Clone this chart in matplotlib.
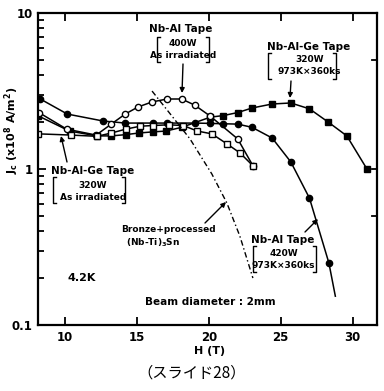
import matplotlib.pyplot as plt
from matplotlib.lines import Line2D
from matplotlib.ticker import FixedLocator, NullFormatter

# data ########################################################
# Nb-Al tape 420W 973Kx360ks (filled circles), last point = line end only
nbal_420_h = [8.26, 10.14, 12.64, 14.17, 16.1, 17.1, 19.0, 20.1, 21.0, 22.0, 23.0, 24.4, 25.7, 27.0, 28.35, 28.8]
nbal_420_j = [2.81, 2.25, 2.03, 1.97, 1.97, 1.97, 1.97, 1.96, 1.95, 1.94, 1.85, 1.58, 1.11, 0.65, 0.25, 0.153]

# Nb-Al-Ge tape 320W 973Kx360ks (filled squares)
nbalge_973_h = [8.12, 10.3, 12.2, 13.2, 14.2, 15.1, 16.1, 17.0, 18.1, 20.1, 21.0, 22.0, 23.0, 24.4, 25.7, 27.0, 28.3, 29.6, 31.0]
nbalge_973_j = [2.19, 1.75, 1.63, 1.63, 1.66, 1.70, 1.73, 1.75, 1.85, 2.15, 2.2, 2.3, 2.46, 2.61, 2.65, 2.43, 2.0, 1.63, 1.0]

# Nb-Al tape 400W as irradiated (open circles)
nbal_400_h = [8.2, 10.1, 12.15, 13.2, 14.17, 15.07, 16.04, 17.08, 18.1, 19.0, 20.07, 22.0, 23.06]
nbal_400_j = [2.29, 1.80, 1.65, 1.94, 2.25, 2.50, 2.69, 2.81, 2.81, 2.57, 2.19, 1.56, 1.05]

# Nb-Al-Ge tape 320W as irradiated (open squares)
nbalge_irr_h = [8.12, 10.4, 12.2, 13.2, 14.2, 15.2, 16.1, 17.2, 18.2, 19.2, 20.2, 21.25, 22.15, 23.06]
nbalge_irr_j = [1.68, 1.65, 1.62, 1.70, 1.80, 1.88, 1.90, 1.92, 1.90, 1.75, 1.68, 1.45, 1.27, 1.05]

# bronze-processed (Nb-Ti)3Sn (dash-dot, no markers)
bronze_h = [16.04, 17.15, 18.68, 20.2, 21.25, 22.15, 23.06]
bronze_j = [3.16, 2.35, 1.56, 0.93, 0.605, 0.372, 0.2]

x_ticks = [10, 15, 20, 25, 30]
y_ticks = [0.1, 1, 10]
y_tick_labels = ["0.1", "1", "10"]

W, H = 384, 391


def fx(px):
    return px / W


def fy(py):
    return 1 - py / H


def bracket(fig, x0, x1, y0, y1):
    # square brackets around the two lower lines of a label, in pixels
    for xa, d in ((x0, 3), (x1, -3)):
        fig.add_artist(Line2D([fx(xa + d), fx(xa), fx(xa), fx(xa + d)],
                              [fy(y0), fy(y0), fy(y1), fy(y1)],
                              color="black", lw=1.0, transform=fig.transFigure))


def arrow(ax, xy_from, xy_to):
    ax.annotate("", xy=(fx(xy_to[0]), fy(xy_to[1])), xycoords="figure fraction",
                xytext=(fx(xy_from[0]), fy(xy_from[1])), textcoords="figure fraction",
                arrowprops=dict(arrowstyle="-|>", color="black", lw=1.0,
                                mutation_scale=7, shrinkA=0, shrinkB=0))


def main():
    plt.rcParams['font.family'] = ['DejaVu Sans', 'Noto Sans CJK JP']
    fig = plt.figure(figsize=(W / 100, H / 100), dpi=100)
    ax = fig.add_axes([fx(38), fy(325), fx(377) - fx(38), fy(13) - fy(325)])

    lw = 1.1
    ax.plot(nbal_420_h, nbal_420_j, "-o", color="black", lw=lw, ms=4.5,
            markevery=list(range(len(nbal_420_h) - 1)))
    ax.plot(nbalge_973_h, nbalge_973_j, "-s", color="black", lw=lw, ms=4.5)
    ax.plot(nbal_400_h, nbal_400_j, "-o", color="black", lw=lw, ms=4.5,
            mfc="white", mew=1.0)
    ax.plot(nbalge_irr_h, nbalge_irr_j, "-s", color="black", lw=lw, ms=4.5,
            mfc="white", mew=1.0)
    ax.plot(bronze_h, bronze_j, color="black", lw=1.0, ls=(0, (4, 2, 1, 2)))

    ax.set_yscale("log")
    ax.set_xlim(8.1, 31.7)
    ax.set_ylim(0.1, 10)
    ax.xaxis.set_major_locator(FixedLocator(x_ticks))
    ax.yaxis.set_major_locator(FixedLocator(y_ticks))
    ax.set_yticklabels(y_tick_labels)
    ax.yaxis.set_minor_formatter(NullFormatter())
    ax.tick_params(which="both", direction="in", top=True, right=False,
                   labelsize=8.5, width=1.3, pad=4)
    ax.tick_params(which="major", length=6)
    ax.tick_params(which="minor", length=4)
    for lab in ax.get_xticklabels() + ax.get_yticklabels():
        lab.set_fontweight("bold")
    for s in ax.spines.values():
        s.set_linewidth(1.6)
    # sparse ticks on the right side
    for yv in (0.5, 1, 5):
        ax.plot([1, 0.985], [yv, yv], color="black", lw=1.3,
                transform=ax.get_yaxis_transform(), clip_on=False)

    fig.text(fx(210), fy(351), "H (T)", ha="center", va="center",
             fontsize=8, fontweight="bold")
    fig.text(fx(12), fy(130), r"$\mathbf{J_c}$ (x10$^{\mathbf{8}}$ A/m$^{\mathbf{2}}$)",
             rotation=90, ha="center", va="center", fontsize=8, fontweight="bold")
    fig.text(fx(192), fy(373), "（スライド28）", ha="center", va="center",
             fontsize=11, family=["Noto Sans CJK JP", "DejaVu Sans"])

    tb = dict(ha="center", va="center", fontweight="bold")
    # Nb-Al 400W as irradiated
    fig.text(fx(181), fy(29), "Nb-Al Tape", fontsize=7.5, **tb)
    fig.text(fx(183), fy(44), "400W", fontsize=6.5, **tb)
    fig.text(fx(183), fy(55), "As irradiated", fontsize=6.5, **tb)
    bracket(fig, 157, 209, 37, 62)
    arrow(ax, (183, 64), (182, 93))
    # Nb-Al-Ge 320W 973K
    fig.text(fx(309), fy(47), "Nb-Al-Ge Tape", fontsize=7.5, **tb)
    fig.text(fx(310), fy(60), "320W", fontsize=6.5, **tb)
    fig.text(fx(309), fy(72), "973K×360ks", fontsize=6.5, **tb)
    bracket(fig, 268, 336, 53, 79)
    arrow(ax, (291, 81), (290, 98))
    # Nb-Al-Ge 320W as irradiated
    fig.text(fx(93), fy(171), "Nb-Al-Ge Tape", fontsize=7.5, **tb)
    fig.text(fx(93), fy(185), "320W", fontsize=6.5, **tb)
    fig.text(fx(93), fy(197), "As irradiated", fontsize=6.5, **tb)
    bracket(fig, 53, 125, 177, 203)
    arrow(ax, (67, 162), (61, 136))
    # bronze
    fig.text(fx(168), fy(229), "Bronze+processed", fontsize=6.5, **tb)
    fig.text(fx(153), fy(243), r"(Nb-Ti)$_\mathbf{3}$Sn", fontsize=6.5, **tb)
    arrow(ax, (205, 223), (226, 202))
    # Nb-Al 420W 973K
    fig.text(fx(283), fy(240), "Nb-Al Tape", fontsize=7.5, **tb)
    fig.text(fx(284), fy(253), "420W", fontsize=6.5, **tb)
    fig.text(fx(283), fy(265), "973K×360ks", fontsize=6.5, **tb)
    bracket(fig, 253, 316, 246, 272)
    arrow(ax, (305, 232), (318, 219))

    fig.text(fx(82), fy(278), "4.2K", fontsize=8, **tb)
    fig.text(fx(210), fy(302), "Beam diameter : 2mm", fontsize=7.5, **tb)

    fig.savefig("out.png", dpi=100)


if __name__ == "__main__":
    main()
